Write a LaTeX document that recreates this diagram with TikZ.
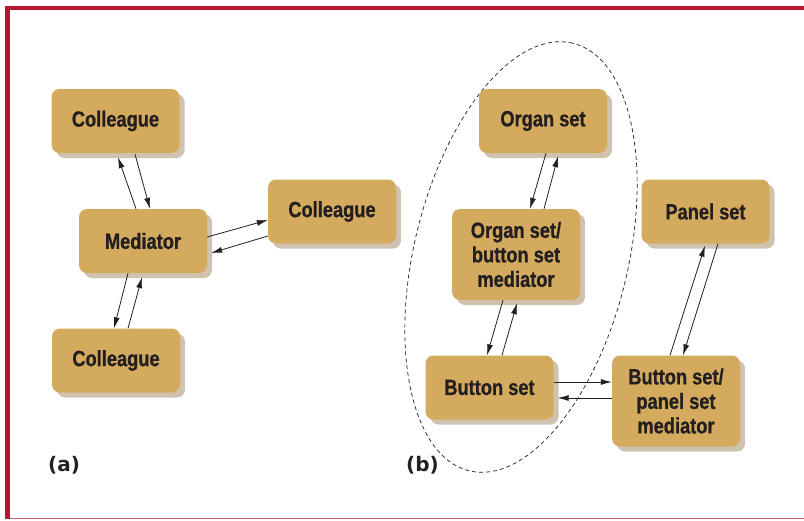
\documentclass[tikz,border=0pt]{standalone}
\usepackage{fontspec}
\setmainfont{Liberation Sans}[FakeStretch=0.83, BoldFeatures={FakeBold=0.8}]
\newfontfamily\labfont{DejaVu Sans}
\usetikzlibrary{shadows,arrows.meta,calc}
\definecolor{boxfill}{RGB}{212,170,94}
\definecolor{boxshadow}{RGB}{207,195,176}
\definecolor{framered}{RGB}{185,20,48}
\definecolor{ink}{RGB}{35,31,32}
\begin{document}
\begin{tikzpicture}[x=1pt,y=-1pt,
  box/.style={rectangle, rounded corners=8pt, fill=boxfill, minimum width=128pt,
    minimum height=64pt, inner sep=0pt, align=center, text=ink,
    font=\fontsize{22}{24.5}\selectfont\bfseries,
    drop shadow={shadow xshift=5pt, shadow yshift=-5pt, fill=boxshadow, opacity=1}},
  tall/.style={minimum height=91pt},
  arr/.style={draw=ink, line width=0.8pt, -{Latex[length=11pt,width=6pt]}},
  lab/.style={font=\labfont\bfseries\fontsize{20}{22}\selectfont, text=ink, inner sep=0pt, anchor=base west},
  group/.style={draw=ink, line width=0.7pt, dash pattern=on 4pt off 3pt}
]
\useasboundingbox (0,0) rectangle (804,520);
\fill[white] (0,0) rectangle (804,520);
% frame
\fill[framered] (5,6) rectangle (804,10);
\fill[framered] (5,6) rectangle (10,519);
\draw[framered!70, line width=1pt] (10,518) -- (804,518);

% grouping ellipse
\draw[group] (521,257) circle [x radius=220pt, y radius=107pt, rotate=76.4];

% (a)
\node[box] (colT) at (115.5,121) {Colleague};
\node[box] (colR) at (332,211.5) {Colleague};
\node[box] (med) at (143,241) {Mediator};
\node[box] (colB) at (116,360.5) {Colleague};
% (b)
\node[box] (organ) at (543,121) {Organ set};
\node[box,tall] (osbsm) at (516,254.5) {Organ set/\\button set\\mediator};
\node[box] (panel) at (705.5,211.5) {Panel set};
\node[box] (button) at (489.5,387.5) {Button set};
\node[box,tall] (bspsm) at (676,401) {Button set/\\panel set\\mediator};

% connectors (a)
\draw[arr] ([xshift=-7pt]med.north) -- ([xshift=2.5pt,yshift=-4pt]colT.south);
\draw[arr] ([xshift=19.5pt,yshift=-1pt]colT.south) -- ([xshift=7pt]med.north);
\draw[arr] ([yshift=4pt]med.east) -- ([yshift=-8.5pt]colR.west);
\draw[arr] ([yshift=-24.5pt]colR.west) -- ([xshift=4pt,yshift=-12pt]med.east);
\draw[arr] ([xshift=-15pt]med.south) -- ([xshift=-2pt]colB.north);
\draw[arr] ([xshift=12pt]colB.north) -- ([xshift=-1pt,yshift=-4pt]med.south);

% connectors (b)
\draw[arr] ([xshift=3pt]organ.south) -- ([xshift=14pt]osbsm.north);
\draw[arr] ([xshift=28pt]osbsm.north) -- ([xshift=15pt,yshift=-3pt]organ.south);
\draw[arr] ([xshift=-13pt]osbsm.south) -- ([xshift=-2.5pt]button.north);
\draw[arr] ([xshift=12.5pt]button.north) -- ([xshift=1pt,yshift=-3pt]osbsm.south);
\draw[arr] ([yshift=5.5pt]button.east) -- ([yshift=19pt]bspsm.west);
\draw[arr] ([yshift=3pt]bspsm.west) -- ([xshift=4pt,yshift=-10.5pt]button.east);
\draw[arr] ([xshift=-6pt]bspsm.north) -- ([xshift=-0.5pt,yshift=-2pt]panel.south);
\draw[arr] ([xshift=12.5pt]panel.south) -- ([xshift=7pt]bspsm.north);

% labels
\node[lab] (la) at (48,471) {(a)};
\node[lab] (lb) at (406,471) {(b)};
\end{tikzpicture}
\end{document}
